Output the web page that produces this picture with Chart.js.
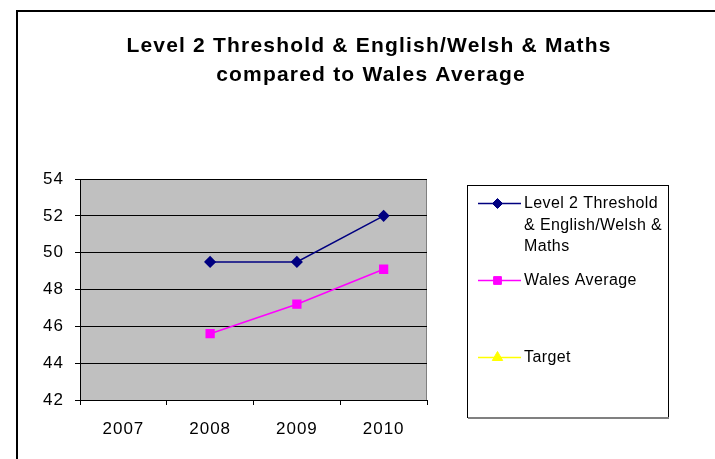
<!DOCTYPE html>
<html>
<head>
<meta charset="utf-8">
<script src="https://cdn.jsdelivr.net/npm/chart.js@4/dist/chart.umd.min.js"></script>
<style>
  html, body { margin: 0; padding: 0; background: #fff; }
  #wrap { position: relative; width: 715px; height: 459px; }
</style>
</head>
<body>
<div id="wrap"><canvas id="resultsChart" width="715" height="459"></canvas></div>
<script>
// Resultados por año
const years = ['2007', '2008', '2009', '2010'];
const level2Values = [null, 49.5, 49.5, 52.0];
const walesValues = [null, 45.6, 47.2, 49.1];
const targetValues = [null, null, null, null];
const yTicks = [42, 44, 46, 48, 50, 52, 54];

const titleLines = ['Level 2 Threshold & English/Welsh & Maths', 'compared to Wales Average'];
const FONT = 'Arial, "Liberation Sans", sans-serif';

// Marco del gráfico, fondo gris del área de trazado y título
const framePlugin = {
    id: 'frame',
    beforeDraw(chart) {
        const { ctx, chartArea: a } = chart;
        ctx.save();
        ctx.fillStyle = '#C0C0C0';
        ctx.fillRect(a.left, a.top, a.right - a.left, a.bottom - a.top);
        ctx.strokeStyle = '#808080';
        ctx.lineWidth = 1;
        ctx.beginPath();
        ctx.moveTo(Math.round(a.right) - 0.5, a.top);
        ctx.lineTo(Math.round(a.right) - 0.5, a.bottom);
        ctx.stroke();
        ctx.restore();
        // espaciado de letras para los ticks
        ctx.letterSpacing = '1px';
    },
    afterDraw(chart) {
        const ctx = chart.ctx;
        ctx.letterSpacing = '0px';
        ctx.save();
        ctx.strokeStyle = '#000';
        ctx.lineWidth = 2;
        ctx.strokeRect(17, 11, 900, 700);

        ctx.fillStyle = '#000';
        ctx.font = 'bold 21px ' + FONT;
        ctx.letterSpacing = '1.2px';
        ctx.textAlign = 'center';
        ctx.textBaseline = 'alphabetic';
        ctx.fillText(titleLines[0], 369, 52);
        ctx.fillText(titleLines[1], 371, 81);
        ctx.restore();
        ctx.letterSpacing = '0px';
    }
};

// Leyenda a la derecha con etiquetas de varias líneas
const legendPlugin = {
    id: 'sideLegend',
    afterDraw(chart) {
        const ctx = chart.ctx;
        const box = { x: 467, y: 185, w: 201, h: 232 };
        const rows = [
            { lines: ['Level 2 Threshold', '& English/Welsh &', 'Maths'], y: 203 },
            { lines: ['Wales Average'], y: 280 },
            { lines: ['Target'], y: 357 }
        ];
        ctx.save();
        ctx.fillStyle = '#fff';
        ctx.fillRect(box.x, box.y, box.w, box.h);
        ctx.strokeStyle = '#000';
        ctx.lineWidth = 1;
        ctx.strokeRect(box.x + 0.5, box.y + 0.5, box.w, box.h);
        ctx.strokeStyle = '#808080';
        ctx.lineWidth = 2;
        ctx.beginPath();
        ctx.moveTo(box.x + 1, box.y + box.h + 1);
        ctx.lineTo(box.x + box.w + 1, box.y + box.h + 1);
        ctx.stroke();

        chart.data.datasets.forEach((ds, i) => {
            const row = rows[i];
            ctx.strokeStyle = ds.borderColor;
            ctx.lineWidth = ds.borderWidth;
            ctx.beginPath();
            ctx.moveTo(478, row.y + 0.5);
            ctx.lineTo(521, row.y + 0.5);
            ctx.stroke();
            ctx.fillStyle = ds.pointBackgroundColor;
            ctx.strokeStyle = ds.pointBorderColor;
            ctx.lineWidth = 1;
            Chart.helpers.drawPoint(ctx, {
                pointStyle: ds.pointStyle,
                radius: ds.pointRadius,
                rotation: 0,
                borderWidth: 1
            }, 497.5, row.y + 0.5);

            ctx.fillStyle = '#000';
            ctx.font = '16px ' + FONT;
            ctx.letterSpacing = '0.4px';
            ctx.textAlign = 'left';
            ctx.textBaseline = 'middle';
            row.lines.forEach((t, k) => ctx.fillText(t, 524, row.y + 1 + k * 21.5));
        });
        ctx.restore();
        ctx.letterSpacing = '0px';
    }
};

new Chart(document.getElementById('resultsChart'), {
    type: 'line',
    data: {
        labels: years,
        datasets: [{
            label: 'Level 2 Threshold & English/Welsh & Maths',
            data: level2Values,
            borderColor: '#000080',
            borderWidth: 1.5,
            pointStyle: 'rectRot',
            pointRadius: 5,
            pointBackgroundColor: '#000080',
            pointBorderColor: '#000080',
            tension: 0
        }, {
            label: 'Wales Average',
            data: walesValues,
            borderColor: '#FF00FF',
            borderWidth: 1.5,
            pointStyle: 'rect',
            pointRadius: 5.5,
            pointBackgroundColor: '#FF00FF',
            pointBorderColor: '#FF00FF',
            tension: 0
        }, {
            label: 'Target',
            data: targetValues,
            borderColor: '#FFFF00',
            borderWidth: 1.5,
            pointStyle: 'triangle',
            pointRadius: 6,
            pointBackgroundColor: '#FFFF00',
            pointBorderColor: '#FFFF00',
            tension: 0
        }]
    },
    options: {
        responsive: false,
        animation: false,
        events: [],
        layout: {
            padding: { left: 0, top: 179, right: 288, bottom: 0 }
        },
        plugins: {
            legend: { display: false },
            title: { display: false },
            tooltip: { enabled: false }
        },
        scales: {
            x: {
                offset: true,
                grid: {
                    offset: true,
                    drawOnChartArea: false,
                    tickLength: 5,
                    color: '#000'
                },
                border: { color: '#000', width: 1 },
                ticks: {
                    color: '#000',
                    padding: 14,
                    maxRotation: 0,
                    font: { family: FONT, size: 17 }
                },
                afterFit(scale) { scale.height = 59; }
            },
            y: {
                min: 42,
                max: 54,
                afterBuildTicks(scale) {
                    scale.ticks = yTicks.map(v => ({ value: v }));
                },
                grid: {
                    color: '#000',
                    tickLength: 5
                },
                border: { color: '#000', width: 1 },
                ticks: {
                    color: '#000',
                    padding: 11,
                    font: { family: FONT, size: 17 }
                },
                afterFit(scale) { scale.width = 80; }
            }
        }
    },
    plugins: [framePlugin, legendPlugin]
});
</script>
</body>
</html>
